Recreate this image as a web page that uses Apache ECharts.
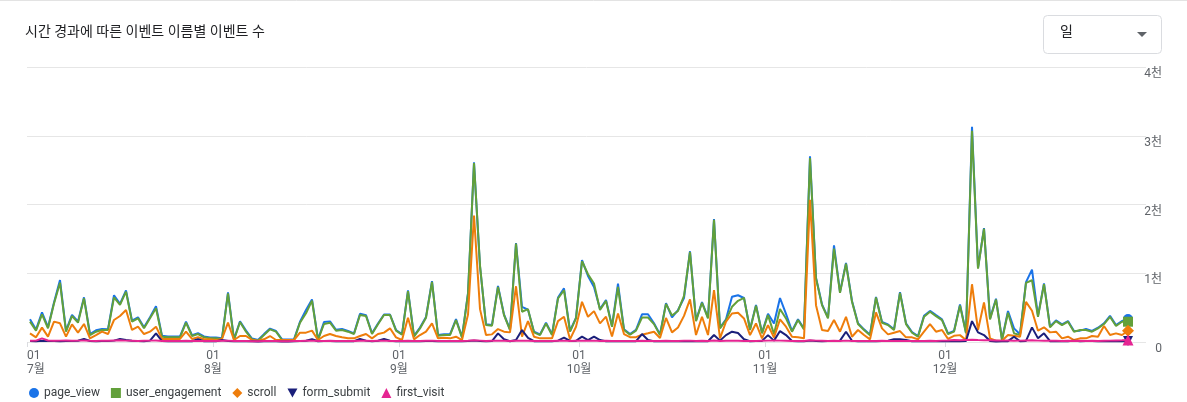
<!DOCTYPE html>
<html><head><meta charset="utf-8">
<script src="https://cdn.jsdelivr.net/npm/echarts@6/dist/echarts.min.js"></script>
<style>html,body{margin:0;padding:0;background:#fff}#c{width:1187px;height:402px}</style>
</head><body><div id="c"></div>
<script>
// ---- data (daily, 2024-07-01 .. 2024-12-31) ----
const startYear = 2024, startMonth = 6, startDay = 1;
const dayCount = 184;
const monthLabels = ['7월', '8월', '9월', '10월', '11월', '12월'];
const seriesNames = ['page_view', 'user_engagement', 'scroll', 'form_submit', 'first_visit'];

const pageView = [
330,180,430,215,575,900,165,395,300,650,
115,170,190,185,680,555,750,310,360,215,
360,520,90,80,80,80,295,100,128,80,
65,65,55,722,40,300,165,50,28,115,
195,160,38,38,38,295,466,620,38,290,
300,178,188,162,125,410,390,128,270,400,
400,175,115,750,88,210,365,884,102,112,
112,332,72,710,2613,1100,258,248,816,400,
185,1440,512,470,150,110,282,112,645,780,
160,355,1190,960,800,480,610,232,850,185,
115,178,403,403,272,110,565,360,465,640,
1320,315,582,355,1790,208,330,657,680,640,
185,540,136,410,270,640,410,160,330,195,
2700,935,548,355,1405,725,1150,596,272,184,
107,655,292,256,184,725,272,145,87,380,
452,390,330,125,160,546,136,3130,1080,1657,
340,630,38,450,198,112,870,1053,380,852,
225,315,256,305,160,165,190,160,208,272,
380,245,305,333];

const userEngagement = [
296,165,403,199,560,863,150,378,281,635,
100,150,175,175,650,540,732,296,344,199,
344,490,78,68,68,68,281,87,116,68,
53,55,44,708,29,291,150,39,19,102,
184,150,29,29,29,281,417,601,29,262,
281,165,175,150,116,393,378,116,257,393,
393,165,105,739,77,198,353,874,92,101,
101,319,63,700,2603,1116,246,237,802,391,
174,1430,440,478,140,101,270,101,633,753,
150,343,1174,985,852,466,598,222,800,174,
105,165,355,355,260,100,555,385,452,670,
1309,304,570,343,1777,198,319,512,599,642,
174,526,126,391,115,480,343,150,319,184,
2676,923,536,343,1357,715,1140,584,261,174,
97,647,280,246,174,715,261,135,77,367,
440,377,319,115,150,530,126,3072,1067,1647,
328,618,29,425,126,101,860,898,367,840,
213,304,246,295,150,174,174,150,198,261,
367,232,295,295];

const scroll = [
126,68,209,78,296,272,78,257,136,262,
53,100,150,116,320,378,466,175,223,116,
150,223,44,44,44,44,150,44,68,40,
40,29,44,281,29,87,87,29,19,39,
87,29,29,29,29,136,136,165,29,87,
116,87,68,53,53,87,116,53,116,136,
199,68,29,353,39,101,150,270,53,63,
53,77,29,400,1840,478,101,111,188,150,
140,811,77,304,77,53,53,53,304,367,
39,222,584,367,449,271,368,80,415,115,
70,70,105,126,150,58,350,140,210,380,
620,101,367,101,753,53,295,415,425,343,
101,270,53,246,65,330,222,77,68,53,
2070,536,174,159,319,150,367,77,174,101,
39,430,198,111,135,159,68,68,39,150,
261,150,174,45,90,100,29,840,174,575,
53,19,19,101,92,77,584,454,164,213,
140,150,53,77,29,53,53,87,77,232,
101,126,101,164];

const formSubmit = [
15,12,18,14,16,12,15,14,18,44,
14,12,16,15,20,44,28,18,15,12,
20,126,14,10,10,12,15,12,40,12,
10,12,29,15,10,14,12,10,8,12,
14,10,8,8,10,14,18,40,10,14,
16,12,14,10,12,44,20,12,18,44,
18,12,10,16,10,12,14,16,10,10,
12,14,10,14,20,16,12,14,125,40,
12,30,174,60,12,10,12,10,20,63,
15,18,78,29,78,29,12,10,14,10,
10,12,116,30,12,10,14,12,10,12,
15,12,14,10,101,20,100,150,130,40,
12,14,16,100,20,159,101,14,10,12,
20,15,12,14,16,20,150,18,10,12,
10,12,14,20,39,39,30,12,10,12,
14,12,10,12,14,10,15,304,140,101,
14,8,10,12,77,10,15,213,53,126,
12,10,14,12,20,12,15,14,12,10,
12,14,12,14];

const firstVisit = [
18,20,53,22,18,20,22,18,20,22,
18,16,20,18,22,24,20,18,16,18,
20,22,16,14,14,16,18,14,16,14,
14,16,18,20,14,16,14,12,12,14,
16,14,12,12,14,16,18,20,14,16,
18,16,14,14,16,18,20,16,18,20,
16,14,14,18,14,16,18,20,14,14,
16,14,14,18,24,20,16,18,20,18,
16,18,20,18,16,14,16,14,18,20,
16,18,20,18,20,16,18,14,16,14,
14,16,18,16,14,14,18,16,16,18,
20,16,18,16,22,16,18,20,18,16,
14,16,18,20,22,20,18,16,14,16,
24,20,18,16,18,16,20,16,14,16,
14,16,18,16,14,16,14,14,14,16,
18,16,20,22,28,26,30,32,28,26,
24,22,20,22,18,20,22,24,20,18,
20,18,16,18,16,18,16,18,16,18,
20,22,24,29];

// ---- derived: x = days since 1 July 00:00, points at midday ----
const DAY = 86400000;
const t0 = Date.UTC(startYear, startMonth, startDay);
const dayPos = [];
for (let i = 0; i < dayCount; i++) dayPos.push(i + 0.5);
const monthStarts = monthLabels.map((m, k) => (Date.UTC(startYear, startMonth + k, 1) - t0) / DAY);

const FONT = 'Roboto, "Noto Sans CJK KR", sans-serif';
const colors = ['#1a73e8', '#62a03a', '#ee7d0b', '#1a1f7a', '#e52592'];
const symbols = ['circle', 'rect', 'diamond', 'path://M0,0L10,0L5,9Z', 'triangle'];
const symSizes = [10, 10, 12, 10, 11];
const valueSets = [pageView, userEngagement, scroll, formSubmit, firstVisit];

const chart = echarts.init(document.getElementById('c'), null, {renderer: 'canvas'});
chart.setOption({
  animation: false,
  backgroundColor: '#fff',
  title: {
    text: '시간 경과에 따른 이벤트 이름별 이벤트 수',
    left: 25, top: 26, padding: 0,
    textStyle: {fontSize: 14, fontWeight: 'normal', color: '#202124', fontFamily: FONT}
  },
  graphic: [
    {type: 'line', shape: {x1: 0, y1: 0.5, x2: 1187, y2: 0.5}, style: {stroke: '#e3e3e3', lineWidth: 1}, silent: true},
    {type: 'rect', shape: {x: 1043.5, y: 15.5, width: 118, height: 38, r: 4}, style: {fill: '#fff', stroke: '#dadce0', lineWidth: 1}, silent: true},
    {type: 'text', left: 1060, top: 26, style: {text: '일', fontSize: 14, fill: '#202124', fontFamily: FONT}, silent: true},
    {type: 'polygon', shape: {points: [[1137, 32], [1147, 32], [1142, 37]]}, style: {fill: '#5f6368'}, silent: true}
  ],
  legend: {
    data: seriesNames.map((n, k) => ({name: n, icon: symbols[k]})),
    left: 29, top: 387, padding: 0,
    itemWidth: 10, itemHeight: 10, itemGap: 11,
    textStyle: {fontSize: 12, color: '#3c4043', fontFamily: FONT},
    selectedMode: false
  },
  grid: {left: 27, right: 41, top: 67, bottom: 60, containLabel: false},
  xAxis: {
    type: 'value',
    min: 0,
    max: 186.5,
    axisLine: {show: false},
    splitLine: {show: false},
    axisTick: {show: true, customValues: monthStarts, length: 5, lineStyle: {color: '#dadce0'}},
    axisLabel: {
      customValues: monthStarts,
      alignMinLabel: 'left',
      margin: 7, fontSize: 12, lineHeight: 14, color: '#5f6368', fontFamily: FONT,
      formatter: function (v) {
        const k = monthStarts.indexOf(v);
        return k < 0 ? '' : '01\n' + monthLabels[k];
      }
    }
  },
  yAxis: {
    type: 'value', position: 'right', min: 0, max: 4000, interval: 1000,
    axisLine: {show: false}, axisTick: {show: false},
    splitLine: {lineStyle: {color: '#e6e6e6', width: 1}},
    axisLabel: {
      align: 'right', verticalAlign: 'top', margin: 16, fontSize: 12, lineHeight: 14,
      color: '#5f6368', fontFamily: FONT,
      formatter: v => v === 0 ? '0' : (v / 1000) + '천'
    }
  },
  series: seriesNames.map((n, k) => ({
    name: n, type: 'line',
    data: dayPos.map((d, i) => [d, valueSets[k][i]]),
    color: colors[k],
    itemStyle: {color: colors[k]},
    lineStyle: {width: 2, color: colors[k]},
    symbol: symbols[k],
    showSymbol: true,
    symbolSize: (v, p) => p.dataIndex === dayCount - 1 ? symSizes[k] : 0,
    emphasis: {disabled: true},
    z: 2 + k
  }))
});
</script></body></html>
